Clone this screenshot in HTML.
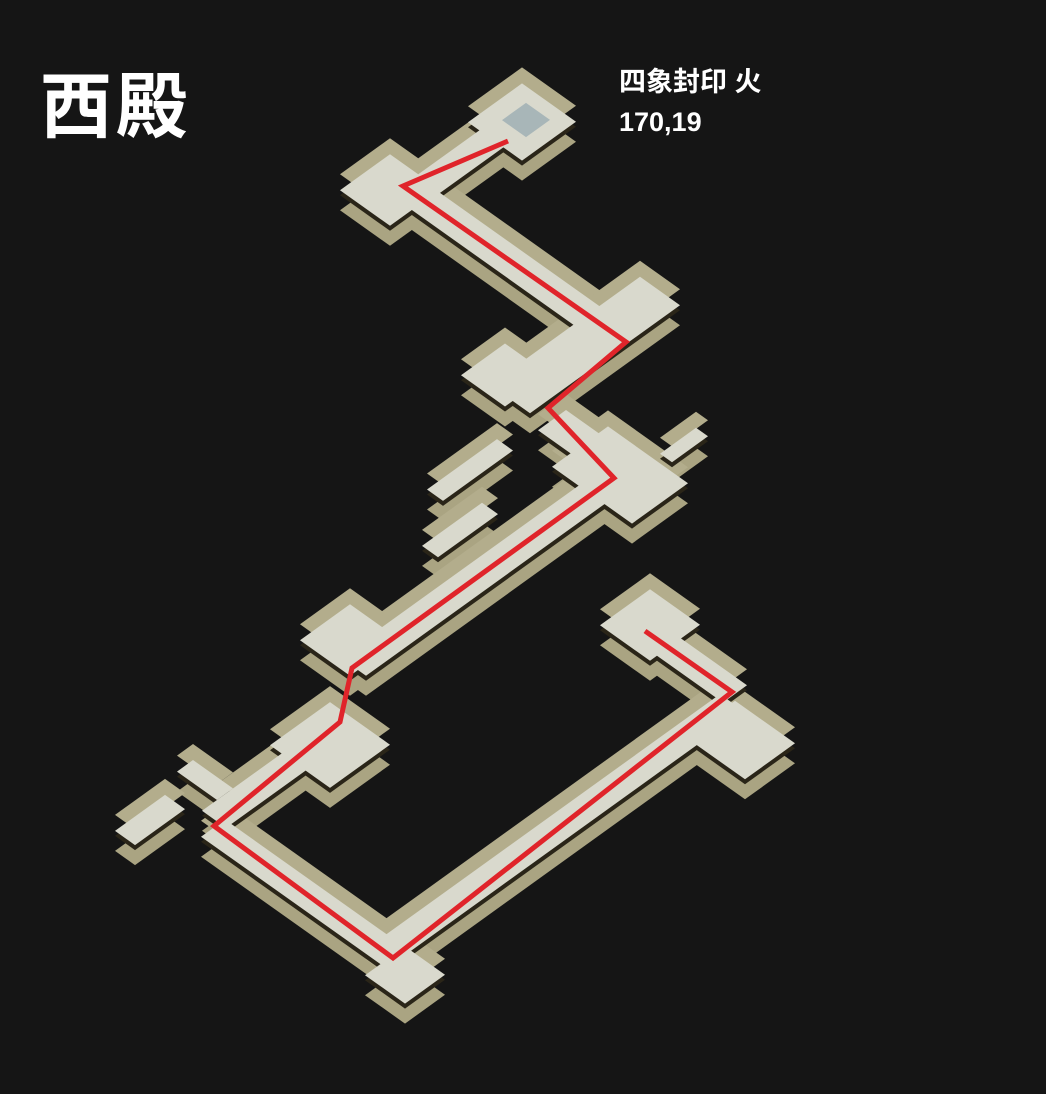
<!DOCTYPE html>
<html><head><meta charset="utf-8"><style>
html,body{margin:0;padding:0;background:#151515;}
body{width:1046px;height:1094px;position:relative;overflow:hidden;font-family:"Liberation Sans","Noto Sans CJK SC",sans-serif;}
.t1{position:absolute;left:40px;top:72px;font-size:72px;color:#fff;font-weight:bold;letter-spacing:4px;line-height:1;}
.t2{position:absolute;left:619px;top:62px;font-size:27px;color:#fff;line-height:40px;font-weight:bold;}
</style></head><body>
<svg id="s" width="1046" height="1094" style="position:absolute;left:0;top:0">
<g id="wall" transform="translate(0,20)" fill="#aaa482"></g>
<g id="back" transform="translate(0,-16)" fill="#b3ad8c"></g>
<g id="dark" transform="translate(0,5)" fill="#2a2518"></g>
<g id="floor" fill="#d9d9cd"></g>
<g id="top"></g>
</svg>
<div class="t1">西殿</div>
<div class="t2">四象封印 火<br>170,19</div>
<script>
var P=[
[522,122,27,27],[455,165,12,40],[390,190,25,25],[514,264,112,13],
[585,345,20,75],[505,375,22,22],[580,440,28,14],[620,475,40,28],[470,470,8,35],[460,530,8,30],[684,445,6,18],
[483,573,13,130],[350,640,25,25],[330,745,30,30],[277,774,12,63],[150,820,10,25],[205,780,20,8],
[303,892,90,12],[562,825,12,170],[405,975,20,20],[650,625,25,25],[690,662,45,12],[740,740,30,25]
];
var ns="http://www.w3.org/2000/svg";
function pt(x,y,a,b){return [x+a+b, y+0.71*a-0.72*b];}
P.forEach(function(p){
  var c=[pt(p[0],p[1],-p[2],-p[3]),pt(p[0],p[1],p[2],-p[3]),pt(p[0],p[1],p[2],p[3]),pt(p[0],p[1],-p[2],p[3])];
  var s=c.map(function(q){return q[0].toFixed(1)+","+q[1].toFixed(1)}).join(" ");
  ["wall","back","dark","floor"].forEach(function(id){
    var e=document.createElementNS(ns,"polygon");e.setAttribute("points",s);document.getElementById(id).appendChild(e);
  });
});
var t=document.getElementById("top");
var r=document.createElementNS(ns,"polygon");
r.setAttribute("points",[pt(526,120,-12,-12),pt(526,120,12,-12),pt(526,120,12,12),pt(526,120,-12,12)].map(function(q){return q.join(",")}).join(" "));
r.setAttribute("fill","#a8b6b8");t.appendChild(r);
var l=document.createElementNS(ns,"polyline");
l.setAttribute("points","508,141 403,186 626,342 548,408 614,478 352,668 340,722 214,826 393,958 732,692 645,631");
l.setAttribute("fill","none");l.setAttribute("stroke","#e0242a");l.setAttribute("stroke-width","5");
t.appendChild(l);
</script>
</body></html>
